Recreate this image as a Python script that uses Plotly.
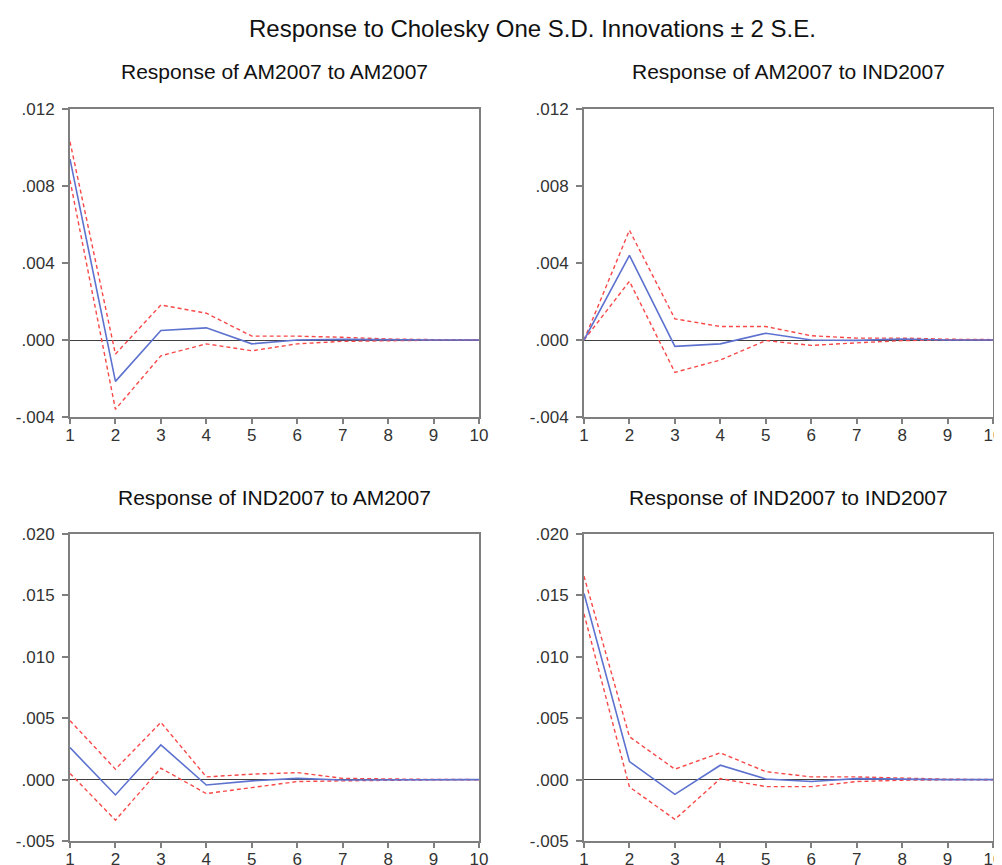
import plotly.graph_objects as go

periods = [1, 2, 3, 4, 5, 6, 7, 8, 9, 10]

# Response of AM2007 to AM2007
am_am = [0.0094, -0.00215, 0.00049, 0.00063, -0.0002, 0.0, 0.00003, 0.0, 0.0, 0.0]
am_am_up = [0.0103, -0.00073, 0.00182, 0.00139, 0.0002, 0.0002, 0.00014, 0.00005, 0.00002, 0.00001]
am_am_lo = [0.0083, -0.0036, -0.00082, -0.0002, -0.00056, -0.0002, -0.00007, -0.00003, -0.00001, 0.0]

# Response of AM2007 to IND2007
am_ind = [0.0, 0.0044, -0.00033, -0.0002, 0.00035, 0.0, -0.00002, 0.00005, 0.0, 0.0]
am_ind_up = [0.0, 0.0057, 0.0011, 0.0007, 0.0007, 0.00022, 0.0001, 0.0001, 0.00004, 0.00002]
am_ind_lo = [0.0, 0.00305, -0.00168, -0.00104, -0.00003, -0.00028, -0.00015, -0.00003, 0.0, 0.0]

# Response of IND2007 to AM2007
ind_am = [0.0026, -0.00125, 0.00283, -0.00044, -0.0001, 0.0001, -0.00003, -0.00001, 0.0, 0.0]
ind_am_up = [0.0048, 0.00085, 0.00466, 0.00022, 0.00044, 0.00057, 0.0001, 0.00003, 0.00001, 0.0]
ind_am_lo = [0.0005, -0.0033, 0.00093, -0.00114, -0.00065, -0.00016, -0.0001, -0.00005, -0.00002, -0.00001]

# Response of IND2007 to IND2007
ind_ind = [0.01515, 0.00147, -0.0012, 0.00117, 0.00005, -0.00016, 0.00008, 0.00003, 0.0, 0.0]
ind_ind_up = [0.01657, 0.00349, 0.00085, 0.00218, 0.00065, 0.00022, 0.00022, 0.0001, 0.00003, 0.00001]
ind_ind_lo = [0.0135, -0.0006, -0.00324, 0.00008, -0.00057, -0.00057, -0.00016, -0.00005, -0.00002, -0.00001]

titles = ["Response of AM2007 to AM2007", "Response of AM2007 to IND2007",
          "Response of IND2007 to AM2007", "Response of IND2007 to IND2007"]
main_title = "Response to Cholesky One S.D. Innovations \u00b1 2 S.E."

top_ticks = [-0.004, 0.0, 0.004, 0.008, 0.012]
top_labels = ["-.004", ".000", ".004", ".008", ".012"]
bot_ticks = [-0.005, 0.0, 0.005, 0.010, 0.015, 0.020]
bot_labels = ["-.005", ".000", ".005", ".010", ".015", ".020"]
x_labels = ["1", "2", "3", "4", "5", "6", "7", "8", "9", "10"]

OFF = 8  # page body margin
W, H = 1002 - OFF, 865 - OFF
panels = [
    (am_am, am_am_up, am_am_lo, (70, 479), (109, 417), top_ticks, top_labels, (-0.004, 0.012)),
    (am_ind, am_ind_up, am_ind_lo, (584, 993), (109, 417), top_ticks, top_labels, (-0.004, 0.012)),
    (ind_am, ind_am_up, ind_am_lo, (70, 479), (534, 841), bot_ticks, bot_labels, (-0.005, 0.020)),
    (ind_ind, ind_ind_up, ind_ind_lo, (584, 993), (534, 841), bot_ticks, bot_labels, (-0.005, 0.020)),
]

BLUE = "#5d72cf"
RED = "#f84848"
AXIS = "#7f7f7f"
FONT = "Liberation Sans, Arial, sans-serif"


def px_x(v):
    return (v - OFF) / W


def px_y(v):
    return 1 - (v - OFF) / H


fig = go.Figure()
layout = {}
annotations = []
for i, (resp, up, lo, (x0, x1), (y0, y1), tv, tt, yr) in enumerate(panels):
    n = "" if i == 0 else str(i + 1)
    xa, ya = "x" + n, "y" + n
    for vals, color, dash, width in [(up, RED, "4px,3px", 1.4), (lo, RED, "4px,3px", 1.4),
                                     (resp, BLUE, "solid", 1.6)]:
        fig.add_trace(go.Scatter(x=periods, y=vals, mode="lines", xaxis=xa, yaxis=ya,
                                 line=dict(color=color, dash=dash, width=width),
                                 showlegend=False, hoverinfo="skip", cliponaxis=False))
    layout["xaxis" + n] = dict(
        domain=[px_x(x0), px_x(x1)], range=[1, 10], anchor=ya, automargin=False,
        tickvals=periods, ticktext=x_labels, ticks="outside", ticklen=5, tickwidth=1.5,
        ticklabelstandoff=-3, ticklabeloverflow="allow",
        tickcolor=AXIS, showline=True, linecolor=AXIS, linewidth=2, mirror=True,
        showgrid=False, zeroline=False,
        tickfont=dict(family=FONT, size=17, color="#333333"))
    layout["yaxis" + n] = dict(
        domain=[px_y(y1), px_y(y0)], range=list(yr), anchor=xa, automargin=False,
        tickvals=tv, ticktext=tt, ticks="outside", ticklen=6, tickwidth=1.5,
        ticklabelstandoff=4, ticklabeloverflow="allow",
        tickcolor=AXIS, showline=True, linecolor=AXIS, linewidth=2, mirror=True,
        showgrid=False, zeroline=True, zerolinecolor="#404040", zerolinewidth=1,
        tickfont=dict(family=FONT, size=17, color="#333333"))
    annotations.append(dict(text=titles[i], x=px_x((x0 + x1) / 2), y=px_y(y0 - 37),
                            xref="paper", yref="paper", showarrow=False,
                            xanchor="center", yanchor="middle",
                            font=dict(family=FONT, size=21, color="#111111")))

annotations.append(dict(text=main_title, x=px_x(532), y=px_y(28), xref="paper", yref="paper",
                        showarrow=False, xanchor="center", yanchor="middle",
                        font=dict(family=FONT, size=24, color="#111111")))

fig.update_layout(width=W, height=H, margin=dict(l=0, r=0, t=0, b=0, autoexpand=False),
                  paper_bgcolor="white", plot_bgcolor="white",
                  annotations=annotations, **layout)
fig.write_html("out.html")
